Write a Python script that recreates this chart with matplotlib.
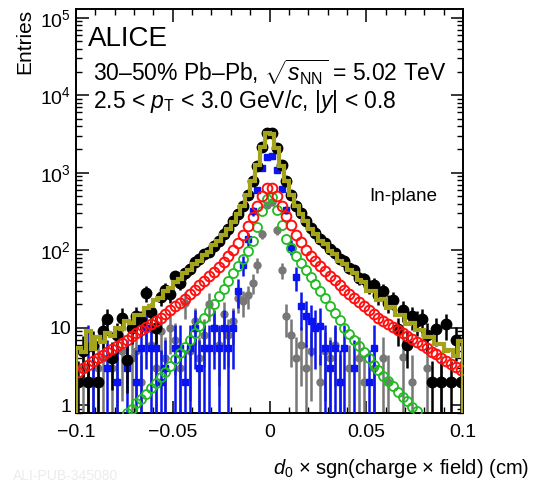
import numpy as np
import matplotlib
matplotlib.use("Agg")
import matplotlib.pyplot as plt
from matplotlib.ticker import FixedLocator, FixedFormatter, MultipleLocator, LogLocator, NullFormatter

plt.rcParams['font.family'] = ['Liberation Sans', 'DejaVu Sans']
plt.rcParams['mathtext.fontset'] = 'custom'
plt.rcParams['mathtext.rm'] = 'Liberation Sans'
plt.rcParams['mathtext.it'] = 'Liberation Sans:italic'

# binning: 80 bins between -0.1 and 0.1 cm
edges = np.linspace(-0.1, 0.1, 81)

# entries per bin, written from |d0| small to large, for negative / positive side
data_neg = [3250, 2150, 1230, 780, 510, 370, 295, 235, 190, 160, 132, 112, 96, 88, 76, 70,
            57, 50, 38, 46, 27, 31, 25, 10, 16, 28, 12, 14, 10, 3.8, 13.5, 8, 4, 13, 9, 2,
            6, 2, 5, 2]
data_pos = [3300, 2100, 1250, 790, 520, 375, 300, 240, 195, 165, 140, 122, 104, 92, 78, 72,
            58, 56, 44, 43, 34, 36, 26, 30, 21, 23, 9.5, 17, 6, 14, 12, 13, 8, 2, 9.5, 2,
            11, 2, 7, 2]

fit_neg = [3250, 2120, 1240, 780, 515, 372, 295, 232, 188, 158, 130, 115, 96, 86, 72, 66,
           55, 50, 42, 39, 32, 30, 24, 23, 19, 18, 14.5, 14.5, 11.5, 12, 9.5, 10, 7.8, 8.6,
           6.5, 7.5, 5.3, 9, 4.8, 5.5]
fit_pos = [3200, 2100, 1230, 780, 520, 375, 295, 235, 190, 162, 133, 119, 98, 89, 73, 67,
           55, 51, 41, 39, 30, 30, 23, 23.5, 18, 18.5, 14.5, 14.5, 11.2, 11.5, 9.2, 9.3, 7.5,
           7.6, 6.2, 6.2, 5.0, 5.1, 4.3, 6.8]

red_neg = [640, 495, 368, 272, 206, 156, 124, 101, 84, 71, 61, 53, 46.5, 40.5, 35, 30.5,
           26.8, 23.6, 21, 18.8, 16.8, 15, 13.4, 12.1, 11, 10.1, 9.2, 8.4, 7.7, 7.0, 6.4,
           5.8, 5.3, 4.9, 4.4, 4.0, 3.7, 3.3, 3.0, 2.7]
red_pos = [631, 501, 372, 275, 209, 158, 126, 102, 85, 72, 62, 54, 47, 41, 35.5, 31, 27, 24,
           21.4, 19, 17, 15.1, 13.5, 12.3, 11.2, 10.2, 9.3, 8.5, 7.8, 7.1, 6.5, 5.9, 5.4,
           4.9, 4.5, 4.1, 3.7, 3.4, 3.1, 2.8]

green_neg = [457, 316, 200, 132, 98, 78, 62, 50, 40, 31.6, 25.7, 20.4, 16.2, 13.2, 10.5, 8.5,
             6.9, 5.6, 4.7, 3.9, 3.2, 2.7, 2.3, 1.95, 1.66, 1.41, 1.2, 1.05, 0.89, 0.78,
             0, 0, 0, 0, 0, 0, 0, 0, 0, 0]
green_pos = [479, 331, 209, 141, 107, 85, 69, 56, 45.7, 36.3, 29.5, 24, 19, 15.5, 12.6, 10,
             8.3, 6.9, 5.75, 4.8, 4.0, 3.3, 2.8, 2.4, 2.04, 1.74, 1.48, 1.29, 1.12, 0.95,
             0.83, 0, 0, 0, 0, 0, 0, 0, 0, 0]

blue_neg = [1600, 1150, 600, 320, 140, 65, 30, 10, 5.5, 10, 5.5, 10, 5.5, 5.5, 3, 10, 5.5,
            2, 5.5, 5.5, 0, 3, 2, 5.5, 5.5, 10, 5.5, 2, 0, 3, 0, 2, 0, 3, 0, 0, 2, 5.5, 0, 0]
blue_pos = [1650, 1100, 620, 330, 110, 45, 19, 14, 12, 10, 10.5, 5.5, 3, 5.5, 2, 5.5, 0, 3,
            0, 0, 2, 5.5, 0, 0, 0, 0, 0, 0, 0, 0, 0, 0, 0, 0, 0, 0, 0, 0, 0, 0]

gray_neg = [380, 160, 65, 38, 26, 22, 24, 12, 8, 15, 6, 10, 20, 8, 4, 12, 5, 21, 3, 7, 10, 4,
            9, 3, 6, 10, 2, 5, 4, 0, 5, 2, 3, 0, 4, 3, 2, 0, 3, 0]
gray_pos = [420, 180, 55, 14, 8, 4, 6, 3, 5, 0, 2, 5, 4, 6, 2, 0, 3, 0, 4, 2, 0, 3, 0, 4, 2,
            0, 0, 4.2, 0, 2, 0, 0, 3, 0, 0, 2, 0, 0, 0, 0]


def full(neg, pos):
    y = np.concatenate([np.array(neg, float)[::-1], np.array(pos, float)])
    y[y <= 0] = np.nan
    return y


centers = 0.5 * (edges[1:] + edges[:-1])
half_w = 0.5 * (edges[1] - edges[0])

data = full(data_neg, data_pos)
fit = full(fit_neg, fit_pos)
red = full(red_neg, red_pos)
green = full(green_neg, green_pos)
blue = full(blue_neg, blue_pos)
gray = full(gray_neg, gray_pos)


def errs(y, w):
    # statistical error of weighted entries
    e = np.sqrt(w * y)
    lo = np.minimum(e, y * 0.999)
    return [lo, e]


fig = plt.figure(figsize=(5.35, 4.84), dpi=100)
ax = fig.add_axes([76 / 535, 71 / 484, 387 / 535, 404 / 484])
ax.set_yscale('log')

ax.errorbar(centers, gray, yerr=errs(gray, 3.0), xerr=half_w, fmt='o', color='#777777',
            ms=5, elinewidth=1.8, capsize=0, zorder=2)
ax.errorbar(centers, blue, yerr=errs(blue, 5.0), xerr=half_w, fmt='s', color='#0a14f0',
            ms=5, elinewidth=1.8, capsize=0, zorder=3)
ax.errorbar(centers, data, yerr=errs(data, 1.5), xerr=half_w, fmt='o', color='black',
            ms=7.5, elinewidth=1.8, capsize=0, zorder=4)
ax.plot(centers, green, 'o', mfc='none', mec='#22bb22', ms=6.5, mew=1.3, zorder=5)
ax.plot(centers, red, 'o', mfc='none', mec='#ff1010', ms=7, mew=1.4, zorder=6)
ax.stairs(fit, edges, color='#a3a31c', lw=3, zorder=7)

ax.set_xlim(-0.1, 0.1)
ax.set_ylim(0.79, 1.3e5)

ax.xaxis.set_minor_locator(MultipleLocator(0.01))
ax.xaxis.set_major_locator(FixedLocator([-0.1, -0.05, 0, 0.05, 0.1]))
ax.xaxis.set_major_formatter(FixedFormatter(['\u22120.1', '\u22120.05', '0', '0.05', '0.1']))

ax.yaxis.set_major_locator(FixedLocator([1, 10, 1e2, 1e3, 1e4, 1e5]))
ax.yaxis.set_major_formatter(FixedFormatter(['1', '10', '10$^{2}$', '10$^{3}$',
                                             '10$^{4}$', '10$^{5}$']))
ax.yaxis.set_minor_locator(LogLocator(base=10, subs=np.arange(2, 10), numticks=20))
ax.yaxis.set_minor_formatter(NullFormatter())

ax.tick_params(which='both', direction='in', top=True, right=True, labelsize=14)
ax.tick_params(which='major', length=9, width=1.1)
ax.tick_params(which='minor', length=4.5, width=1.0)
ax.tick_params(axis='x', pad=8)
for s in ax.spines.values():
    s.set_linewidth(1.4)

ax.set_ylabel('Entries', loc='top', fontsize=15)
fig.text(0.99, 1 - 469 / 484, r'$d_0$ × sgn(charge × field) (cm)', ha='right',
         va='center', fontsize=14.5)
fig.text(0.025, 1 - 476 / 484, 'ALI-PUB-345080', color='#ececec', fontsize=10,
         va='center')

ax.text(0.03, 0.957, 'ALICE', transform=ax.transAxes, fontsize=20, va='top')
ax.text(0.045, 0.844, r'30–50% Pb–Pb, $\sqrt{s_{\rm NN}}$ = 5.02 TeV',
        transform=ax.transAxes, fontsize=16.5, va='center')
ax.text(0.045, 0.772, r'2.5 < $p_{\rm T}$ < 3.0 GeV/$c$, |$y$| < 0.8',
        transform=ax.transAxes, fontsize=16.5, va='center')
ax.text(0.757, 0.535, 'In-plane', transform=ax.transAxes, fontsize=13.5, va='center')

fig.savefig('out.png', dpi=100)
